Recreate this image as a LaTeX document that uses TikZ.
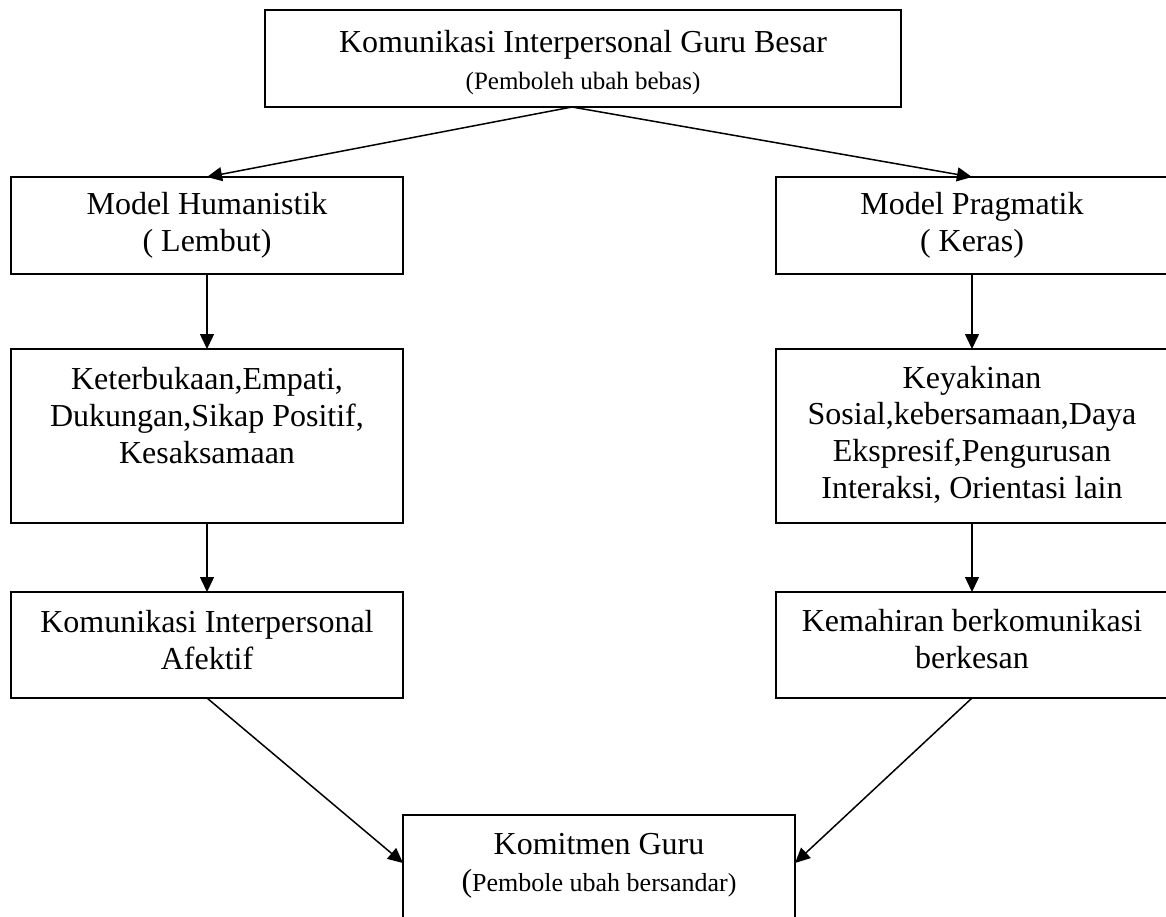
\documentclass[tikz,border=0pt]{standalone}
\usepackage{fontspec}
\setmainfont{Liberation Serif}
\usetikzlibrary{arrows.meta}
\newcommand{\boxtext}[4]{\parbox[c][#2][t]{#1}{\centering\fontsize{16pt}{18.35pt}\selectfont\vspace*{#3}\strut #4\par}}
\tikzset{
  boxnode/.style={draw, line width=1pt, inner sep=0pt, outer sep=0pt, anchor=north west},
  arr/.style={line width=0.75pt, -{Triangle[length=7.5pt,width=7pt]}},
}
\begin{document}
\begin{tikzpicture}[x=0.5pt,y=-0.5pt]
\useasboundingbox (0,0) rectangle (1166,916);
\clip (0,0) rectangle (1166,916);
\fill[white] (0,0) rectangle (1166,916);
\node[boxnode] (T) at (265,10) {\boxtext{318pt}{48.5pt}{8.65pt}{Komunikasi Interpersonal Guru Besar\\{\fontsize{12.5pt}{18.35pt}\selectfont (Pemboleh ubah bebas)}}};
\node[boxnode] (L1) at (11,177) {\boxtext{196pt}{48.5pt}{6.15pt}{Model Humanistik\\( Lembut)}};
\node[boxnode] (R1) at (776,177) {\boxtext{196pt}{48.5pt}{6.15pt}{Model Pragmatik\\( Keras)}};
\node[boxnode] (L2) at (11,349) {\boxtext{196pt}{87pt}{7.6pt}{Keterbukaan,Empati,\\Dukungan,Sikap Positif,\\Kesaksamaan}};
\node[boxnode] (R2) at (776,349) {\boxtext{196pt}{87pt}{6.8pt}{Keyakinan\\Sosial,kebersamaan,Daya\\Ekspresif,Pengurusan\\Interaksi, Orientasi lain}};
\node[boxnode] (L3) at (11,592) {\boxtext{196pt}{53pt}{7.6pt}{Komunikasi Interpersonal\\Afektif}};
\node[boxnode] (R3) at (776,592) {\boxtext{196pt}{53pt}{7.1pt}{Kemahiran berkomunikasi\\berkesan}};
\node[boxnode] (B) at (403,815) {\boxtext{196pt}{62.5pt}{7.1pt}{Komitmen Guru\\(\fontsize{13pt}{18.35pt}\selectfont Pembole ubah bersandar)}};
\coordinate (J) at ([xshift=-5.5pt]T.south);
\draw[arr] (J) -- (L1.north);
\draw[arr] (J) -- (R1.north);
\draw[arr] (L1.south) -- (L2.north);
\draw[arr] (R1.south) -- (R2.north);
\draw[arr] (L2.south) -- (L3.north);
\draw[arr] (R2.south) -- (R3.north);
\draw[arr] (L3.south) -- ([yshift=-24pt]B.north west);
\draw[arr] (R3.south) -- ([yshift=-24pt]B.north east);
\end{tikzpicture}
\end{document}
